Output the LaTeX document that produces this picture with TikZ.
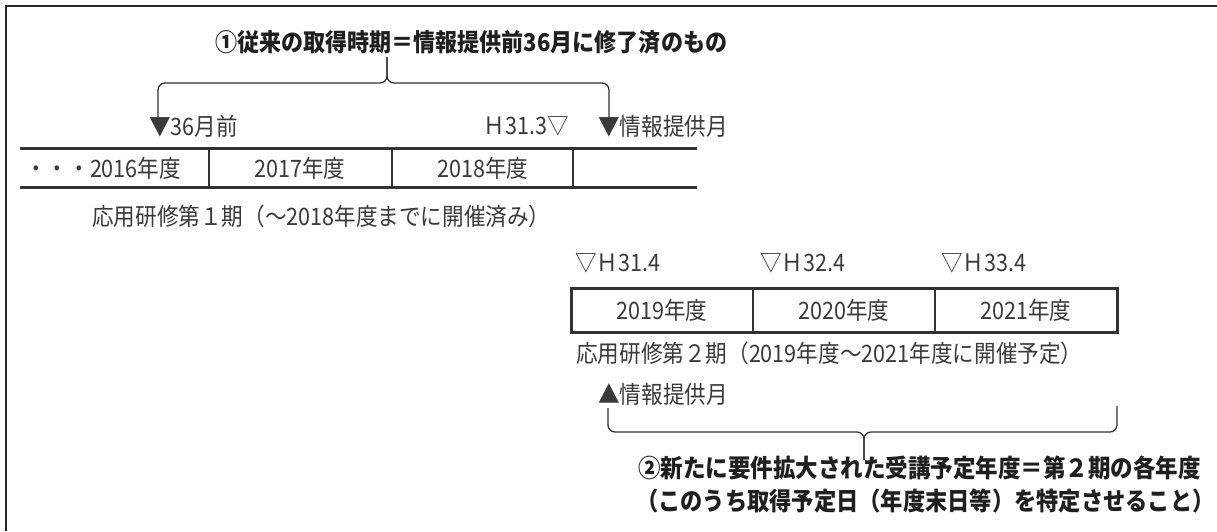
\documentclass[tikz,border=0pt]{standalone}
\usepackage{graphicx}
\usepackage{fontspec}
\setmainfont{Noto Sans CJK JP}
\definecolor{txtgray}{HTML}{3A3A3A}
\definecolor{linegray}{HTML}{333333}
\newcommand\sqz[1]{\scalebox{0.9}[1]{#1}}
\begin{document}
\begin{tikzpicture}[x=1pt,y=-1pt,
  txt/.style={inner sep=0pt, font=\fontsize{24}{28}\selectfont, text=txtgray},
  btxt/.style={inner sep=0pt, font=\fontsize{25}{29}\selectfont\bfseries, text=black!88},
  thickline/.style={line width=3pt, draw=linegray},
  thinline/.style={line width=1.5pt, draw=linegray},
  bracestyle/.style={line width=1.3pt, draw=linegray, rounded corners=7pt}]
\useasboundingbox (0,0) rectangle (1217,531);
\draw[line width=1.5pt, draw=black!85] (6,531) -- (6,6) -- (1217,6);

% title 1
\node[btxt, anchor=west, font=\fontsize{24.5}{29}\selectfont\bfseries] (t1) at (215,42) {\sqz{①従来の取得時期＝情報提供前36月に修了済のもの}};

% brace 1
\coordinate (b1l) at (158,118);
\coordinate (b1r) at (609,118);
\coordinate (b1t) at (387,57);
\draw[bracestyle] (b1l) -- (158,83) -- (387,83) -- (b1t);
\draw[bracestyle] (b1r) -- (609,83) -- (387,83) -- (b1t);

% marks row 1
\node[txt, anchor=west] (m36) at (149,126) {\sqz{▼36月前}};
\node[txt, anchor=east] (h313) at (569,126) {\sqz{Ｈ31.3▽}};
\node[txt, anchor=west] (info1) at (598,126) {\sqz{▼情報提供月}};

% table 1
\draw[thickline] (20,148) -- (697,148);
\draw[thickline] (20,187) -- (697,187);
\foreach \x in {209,392,573} \draw[thinline] (\x,148) -- (\x,187);
\node[txt, anchor=west] (c2016) at (25,168) {\sqz{・・・2016年度}};
\node[txt] (c2017) at (300,168) {\sqz{2017年度}};
\node[txt] (c2018) at (483,168) {\sqz{2018年度}};
\node[txt, anchor=west] (p1) at (92,216) {\sqz{応用研修第１期（～2018年度までに開催済み）}};

% marks row 2
\node[txt, anchor=west] (h314) at (575,263) {\sqz{▽Ｈ31.4}};
\node[txt, anchor=west] (h324) at (760,263) {\sqz{▽Ｈ32.4}};
\node[txt, anchor=west] (h334) at (941,263) {\sqz{▽Ｈ33.4}};

% table 2
\draw[thickline] (571,288) rectangle (1117,332);
\foreach \x in {753,935} \draw[thinline] (\x,288) -- (\x,332);
\node[txt] (c2019) at (662,310) {\sqz{2019年度}};
\node[txt] (c2020) at (844,310) {\sqz{2020年度}};
\node[txt] (c2021) at (1026,310) {\sqz{2021年度}};
\node[txt, anchor=west] (p2) at (576,353) {\sqz{応用研修第２期（2019年度～2021年度に開催予定）}};

% info month 2
\node[txt, anchor=west] (info2) at (598,394) {\sqz{▲情報提供月}};

% brace 2
\coordinate (b2l) at (608,408);
\coordinate (b2r) at (1117,406);
\coordinate (b2t) at (864,460);
\draw[bracestyle] (b2l) -- (608,432) -- (864,432) -- (b2t);
\draw[bracestyle] (b2r) -- (1117,432) -- (864,432) -- (b2t);

% title 2
\node[btxt, anchor=west] (t2a) at (638,468) {\sqz{②新たに要件拡大された受講予定年度＝第２期の各年度}};
\node[btxt, anchor=west] (t2b) at (636,501) {\scalebox{0.89}[1]{（このうち取得予定日（年度末日等）を特定させること）}};
\end{tikzpicture}
\end{document}
